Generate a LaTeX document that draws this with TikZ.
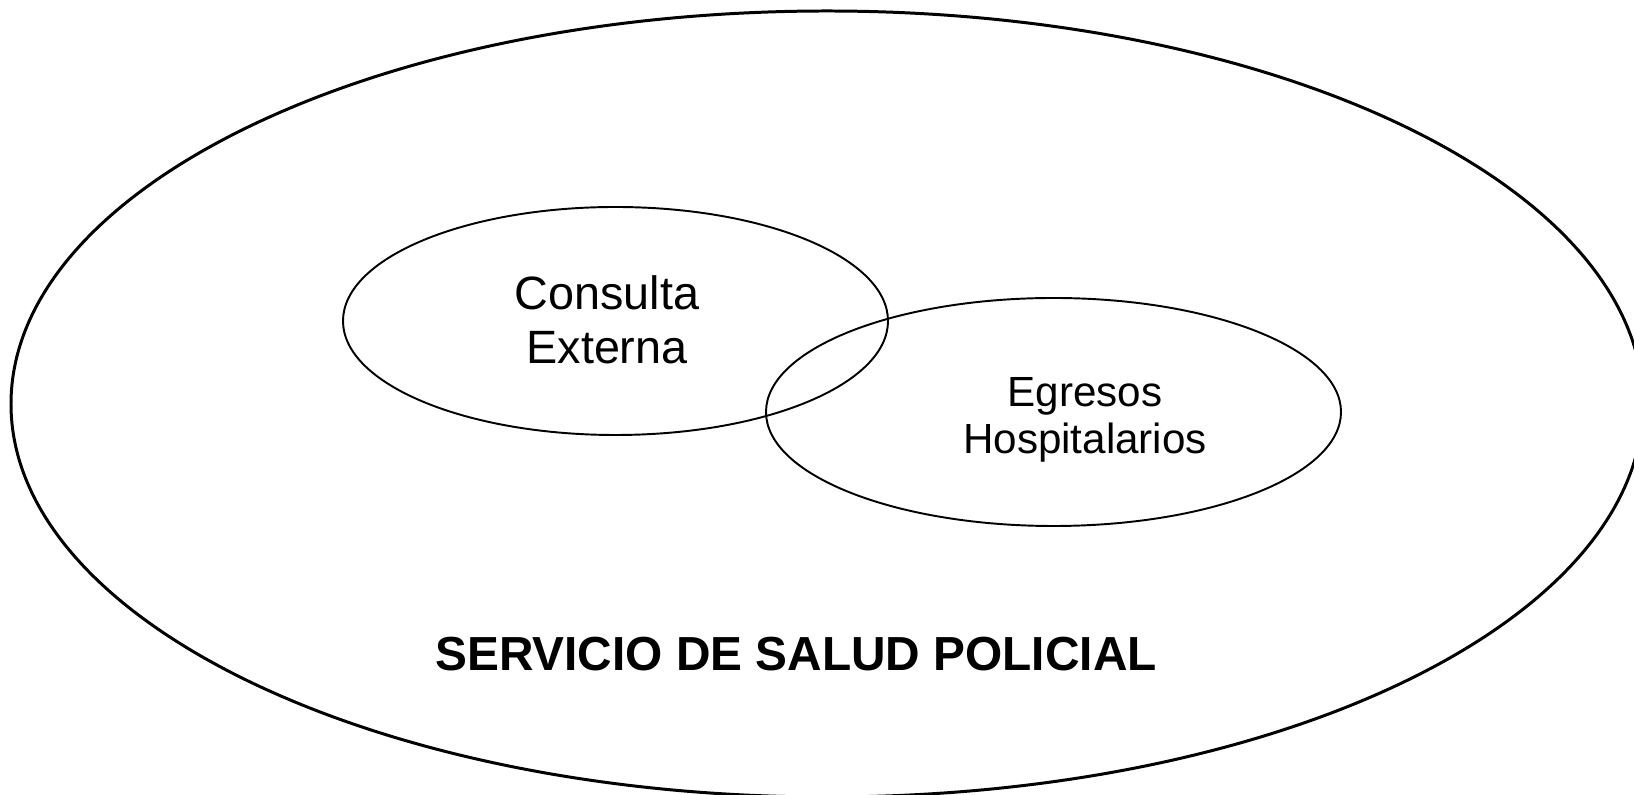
\documentclass[tikz,border=0pt]{standalone}
\usepackage{fontspec}
\setmainfont{Liberation Sans}
\usetikzlibrary{shapes.geometric}
\tikzset{
    every node/.style={inner sep=0mm}
}
\tikzset{
    zone/.style={ellipse, draw, line width=.55pt},
    zonetext/.style={align=center, font=\fontsize{13.3}{15.4}\selectfont}
}

\begin{document}
\begin{tikzpicture}
    \useasboundingbox (0cm, 0cm) rectangle (16.34cm, -7.95cm);

    \node (servicio) [zone, line width=.85pt, minimum width=16.32cm, minimum height=7.86cm] at (8.27cm, -4.04cm) {};
    \node (consulta) [zone, minimum width=5.45cm, minimum height=2.28cm] at (6.155cm, -3.21cm) {};
    \node (egresos) [zone, minimum width=5.75cm, minimum height=2.28cm] at (10.535cm, -4.12cm) {};

    \node (consultatext) [zonetext] at (6.07cm, -3.20cm) {Consulta\\Externa};
    \node (egresostext) [zonetext, font=\fontsize{12}{13.4}\selectfont] at (10.85cm, -4.20cm) {Egresos\\Hospitalarios};
    \node (serviciotext) [font=\fontsize{13.6}{16}\selectfont\bfseries] at (7.96cm, -6.54cm) {SERVICIO DE SALUD POLICIAL};
\end{tikzpicture}
\end{document}
